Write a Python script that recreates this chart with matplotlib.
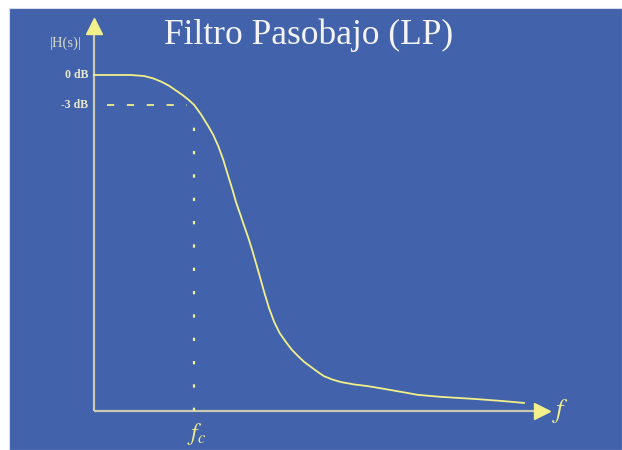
import matplotlib
matplotlib.use("Agg")
import matplotlib.pyplot as plt
from matplotlib.patches import Rectangle

plt.rcParams["mathtext.fontset"] = "stix"

# Data (frequency in arbitrary units, magnitude normalised to 0 dB = 1)
freq = [0.0, 0.81, 1.10, 1.30, 1.48, 1.65, 1.80, 1.95, 2.08, 2.20, 2.35,
        2.51, 2.62, 2.73, 2.84, 2.95, 3.04, 3.12, 3.21, 3.30, 3.40, 3.49,
        3.62, 3.74, 3.85, 3.96, 4.08, 4.22, 4.35, 4.48, 4.62, 4.77, 4.92,
        5.05, 5.23, 5.43, 5.72, 6.02, 6.37, 6.75, 7.12, 7.63, 8.35, 8.95,
        9.45]
mag = [1.0, 1.0, 0.997, 0.990, 0.980, 0.968, 0.954, 0.940, 0.926, 0.911,
       0.883, 0.848, 0.822, 0.789, 0.748, 0.699, 0.660, 0.622, 0.587, 0.551,
       0.512, 0.473, 0.412, 0.354, 0.305, 0.265, 0.232, 0.205, 0.182, 0.164,
       0.146, 0.131, 0.116, 0.104, 0.094, 0.086, 0.079, 0.074, 0.066, 0.057,
       0.048, 0.042, 0.036, 0.030, 0.024]
fc = 2.20
mag_3db = 0.911
title = "Filtro Pasobajo (LP)"
ylabel = "|H(s)|"
ytick_labels = ["0 dB", "-3 dB"]
ytick_vals = [1.0, mag_3db]

W, H = 622, 450
fig = plt.figure(figsize=(W / 100, H / 100), dpi=100)
fig.patch.set_facecolor("white")
bg = "#4262ac"
fig.patches.append(Rectangle((9 / W, 0), 1 - 9 / W, 1 - 8 / H,
                             transform=fig.transFigure, facecolor=bg,
                             edgecolor="#d8dce8", linewidth=0.8, zorder=-10))

x0, y0 = 94, 411
ax = fig.add_axes([x0 / W, (H - y0) / H, 455 / W, (y0 - 13) / H])
ax.set_zorder(5)
ax.set_xlim(0, 10)
ax.set_ylim(0, (y0 - 13) / 336)
ax.axis("off")
ax.patch.set_alpha(0)

axis_col = "#c9c9b4"
yel = "#f2f08a"
ax.plot([0, 0], [0, 1.16], color=axis_col, lw=1.6, solid_capstyle="butt", clip_on=False)
ax.plot([0, 9.98], [0, 0], color=axis_col, lw=1.6, solid_capstyle="butt", clip_on=False)
ax.plot([0], [1.145], marker="^", ms=11, color=yel, clip_on=False)
ax.plot([9.85], [0], marker=">", ms=11, color=yel, clip_on=False)

ax.plot(freq, mag, color=yel, lw=1.3, solid_joinstyle="round", clip_on=False)
ax.plot([0.28, fc - 0.15], [mag_3db, mag_3db], color=yel, lw=1.3,
        dashes=(4, 7), clip_on=False)
ax.plot([fc, fc], [0, mag_3db - 0.02], color=yel, lw=1.6,
        dashes=(1.5, 9), clip_on=False)

for v, lab in zip(ytick_vals, ytick_labels):
    ax.text(-0.13, v, lab, ha="right", va="center", fontsize=8.5,
            family="Liberation Serif", weight="bold", color="#ecead0")
ax.text(-0.62, 1.095, ylabel, ha="center", va="center", fontsize=10.5,
        family="Liberation Serif", color="#d8d8c8")
ax.text(fc + 0.05, -0.03, r"$f_c$", ha="center", va="top", fontsize=17,
        color=yel)
ax.text(10.25, 0.0, r"$f$", ha="center", va="center", fontsize=19, color=yel)

fig.text(309 / W, 1 - 35 / H, title, ha="center", va="center", fontsize=25.5,
         family="Liberation Serif", color="#f4f4f4", zorder=6)

fig.savefig("out.png", dpi=100, facecolor=fig.get_facecolor())
